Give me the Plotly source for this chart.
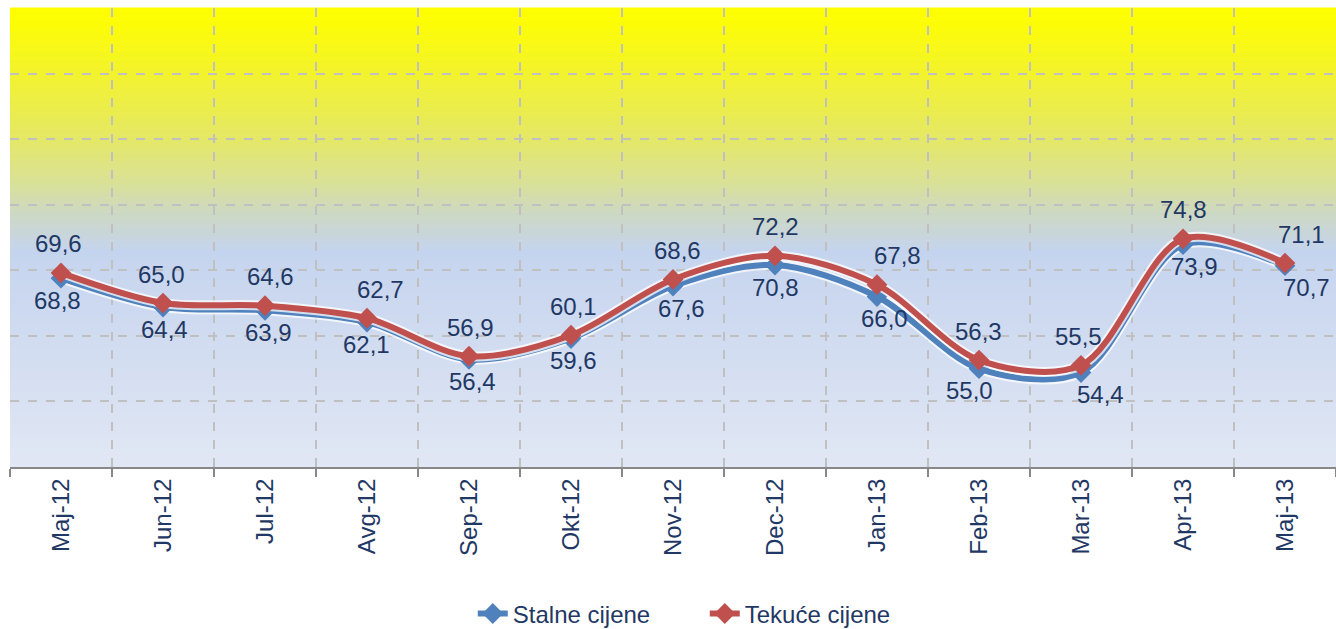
import plotly.graph_objects as go

categories = ["Maj-12", "Jun-12", "Jul-12", "Avg-12", "Sep-12", "Okt-12", "Nov-12",
              "Dec-12", "Jan-13", "Feb-13", "Mar-13", "Apr-13", "Maj-13"]
stalne = [68.8, 64.4, 63.9, 62.1, 56.4, 59.6, 67.6, 70.8, 66.0, 55.0, 54.4, 73.9, 70.7]
tekuce = [69.6, 65.0, 64.6, 62.7, 56.9, 60.1, 68.6, 72.2, 67.8, 56.3, 55.5, 74.8, 71.1]

# label offsets (pixels) - styling only
tek_dx = [-3, -2, 5, 13, 1, 2, 4, 0, 20, -1, -3, 0, 16]
sta_dx = [-4, 1, 3, -1, 3, 2, 8, 0, 7, -10, 19, 11, 21]

BLUE = "#4F81BD"
RED = "#C0504D"
TXT = "#1F3864"
FONT = "Liberation Sans, Arial, sans-serif"
FS = 24

fig = go.Figure()

for name, vals, col in [("Stalne cijene", stalne, BLUE), ("Tekuće cijene", tekuce, RED)]:
    fig.add_trace(go.Scatter(
        x=categories, y=vals, mode="lines", showlegend=False, hoverinfo="skip",
        line=dict(color="rgba(255,255,255,0.75)", width=10, shape="spline", smoothing=0.9),
    ))
    fig.add_trace(go.Scatter(
        x=categories, y=vals, mode="lines+markers", name=name,
        line=dict(color=col, width=6, shape="spline", smoothing=0.9),
        marker=dict(symbol="diamond", size=16, color=col),
    ))

annotations = []
for i, c in enumerate(categories):
    annotations.append(dict(x=c, y=tekuce[i], text=f"{tekuce[i]:.1f}".replace(".", ","),
                            showarrow=False, xshift=tek_dx[i], yshift=29,
                            font=dict(size=FS, color=TXT, family=FONT)))
    annotations.append(dict(x=c, y=stalne[i], text=f"{stalne[i]:.1f}".replace(".", ","),
                            showarrow=False, xshift=sta_dx[i], yshift=-22,
                            font=dict(size=FS, color=TXT, family=FONT)))

# background gradient bands
stops = [(0.0, (255, 255, 0)), (0.04, (252, 252, 8)), (0.14, (243, 243, 44)),
         (0.29, (228, 232, 104)), (0.38, (218, 225, 150)), (0.45, (205, 216, 196)),
         (0.53, (197, 212, 238)), (1.0, (225, 231, 244))]
def col_at(t):
    for (t0, c0), (t1, c1) in zip(stops[:-1], stops[1:]):
        if t0 <= t <= t1:
            f = (t - t0) / (t1 - t0) if t1 > t0 else 0
            return tuple(int(round(a + (b - a) * f)) for a, b in zip(c0, c1))
    return stops[-1][1]

shapes = []
N = 150
for k in range(N):
    t = (k + 0.5) / N  # from top
    r, g, b = col_at(t)
    shapes.append(dict(type="rect", xref="paper", yref="paper", x0=0, x1=1,
                       y0=1 - (k + 1) / N - 0.001, y1=1 - k / N + 0.001,
                       fillcolor=f"rgb({r},{g},{b})", line=dict(width=0), layer="below"))

fig.update_layout(
    width=1336, height=629,
    margin=dict(l=10, r=0, t=8, b=162, autoexpand=False),
    paper_bgcolor="white", plot_bgcolor="#E1E7F4",
    shapes=shapes, annotations=annotations,
    font=dict(family=FONT, color=TXT),
    legend=dict(orientation="h", x=0.349, xanchor="left", y=-0.32, yanchor="middle",
                entrywidth=187, entrywidthmode="pixels",
                font=dict(size=FS, color=TXT, family=FONT), bgcolor="rgba(0,0,0,0)"),
    xaxis=dict(type="category", tickson="boundaries", ticks="outside", ticklen=8,
               tickcolor="#888888", tickwidth=1.5, tickangle=-90,
               tickfont=dict(size=FS, color=TXT, family=FONT),
               showgrid=True, gridcolor="#C0C0C0", griddash="dash", gridwidth=1.5,
               showline=True, linecolor="#888888", linewidth=2,
               range=[-0.5, 12.5], zeroline=False),
    yaxis=dict(range=[40, 110], dtick=10, showticklabels=False, ticks="",
               showgrid=True, gridcolor="#C0C0C0", griddash="dash", gridwidth=1.5,
               zeroline=False, showline=False),
)

fig.write_html("out.html", config={"displayModeBar": False},
               post_script="document.body.style.margin='0';document.body.style.overflow='hidden';")
